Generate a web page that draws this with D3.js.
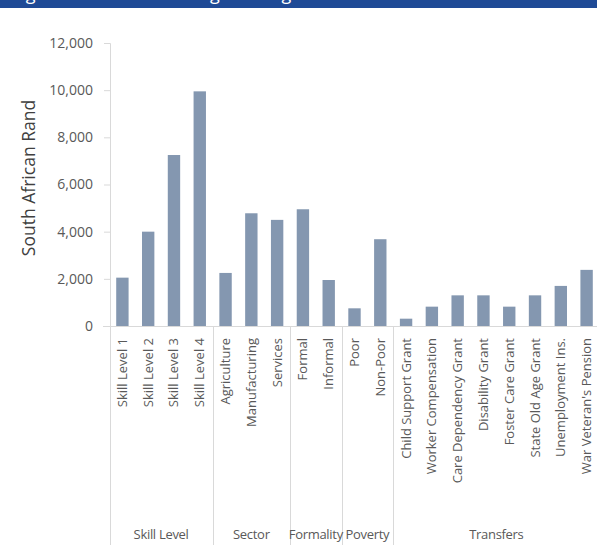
<!DOCTYPE html>
<html>
<head>
<meta charset="utf-8">
<script src="https://cdn.jsdelivr.net/npm/d3@7"></script>
<style>
  html, body { margin: 0; padding: 0; background: #ffffff; }
  svg { display: block; }
</style>
</head>
<body>
<svg id="chart" width="597" height="545"></svg>
<script>
// ---- data ----
const categories = [
  "Skill Level 1", "Skill Level 2", "Skill Level 3", "Skill Level 4",
  "Agriculture", "Manufacturing", "Services",
  "Formal", "Informal",
  "Poor", "Non-Poor",
  "Child Support Grant", "Worker Compensation", "Care Dependency Grant",
  "Disability Grant", "Foster Care Grant", "State Old Age Grant",
  "Unemployment Ins.", "War Veteran's Pension"
];
const values = [
  2050, 4000, 7250, 9950,
  2250, 4780, 4500,
  4950, 1950,
  750, 3680,
  310, 820, 1300, 1300, 820, 1300, 1700, 2380
];
const groupNames = ["Skill Level", "Sector", "Formality", "Poverty", "Transfers"];
const groupSizes = [4, 3, 2, 2, 8];
const yTicks = [0, 2000, 4000, 6000, 8000, 10000, 12000];
const yTitle = "South African Rand";
const headerText = "Figure 6: Median Earnings among Workers and Households";

// ---- layout ----
(function draw() {
const svg = d3.select("#chart");
const W = 597, H = 545;
const pLeft = 109.5, pRight = 599.5, pTop = 43, pBottom = 326;
const font = "'Open Sans', 'Noto Sans', sans-serif";
const textCol = "#595959";
const lineCol = "#d9d9d9";

// header band
svg.append("rect").attr("x", 0).attr("y", 0).attr("width", W).attr("height", 8)
  .attr("fill", "#1f4a96");
svg.append("text").attr("x", 12).attr("y", -0.5)
  .attr("font-family", font).attr("font-size", 18).attr("fill", "#ffffff")
  .text(headerText);

const x = d3.scaleBand().domain(categories).range([pLeft, pRight]).paddingInner(0.52).paddingOuter(0.26);
const y = d3.scaleLinear().domain([0, 12000]).range([pBottom, pTop]);

// y axis
const yAxis = svg.append("g").attr("transform", `translate(110,0)`)
  .call(d3.axisLeft(y).tickValues(yTicks).tickSize(6).tickPadding(11)
    .tickFormat(d3.format(",")));
yAxis.select(".domain").attr("stroke", lineCol);
yAxis.selectAll(".tick line").attr("stroke", lineCol);
yAxis.selectAll(".tick text").attr("font-family", font).attr("font-size", 14)
  .attr("fill", textCol);

// y title
svg.append("text")
  .attr("transform", `translate(35,178) rotate(-90)`)
  .attr("text-anchor", "middle")
  .attr("font-family", font).attr("font-size", 17.5).attr("fill", "#404040")
  .text(yTitle);

// bars
svg.append("g").selectAll("rect").data(categories).join("rect")
  .attr("x", d => x(d))
  .attr("width", x.bandwidth())
  .attr("y", (d, i) => y(values[i]))
  .attr("height", (d, i) => y(0) - y(values[i]))
  .attr("fill", "#8497b0");

// x axis (baseline)
svg.append("line").attr("x1", 103).attr("x2", W).attr("y1", pBottom + 0.5).attr("y2", pBottom + 0.5)
  .attr("stroke", lineCol);

// x tick labels
const xAxis = svg.append("g").attr("transform", `translate(0,${pBottom})`)
  .call(d3.axisBottom(x).tickSize(0).tickPadding(0));
xAxis.select(".domain").remove();
xAxis.selectAll(".tick text")
  .attr("transform", "translate(4.5,12) rotate(-90)")
  .attr("dy", 0).attr("y", 0).attr("x", 0)
  .attr("text-anchor", "end")
  .attr("font-family", font).attr("font-size", 13).attr("fill", textCol);

// group dividers and labels
const step = x.step();
let idx = 0;
const bounds = [pLeft];
groupSizes.forEach(n => { idx += n; bounds.push(pLeft + idx * step); });
svg.append("g").selectAll("line").data(bounds).join("line")
  .attr("x1", d => Math.round(d) + 0.5).attr("x2", d => Math.round(d) + 0.5)
  .attr("y1", pBottom).attr("y2", H)
  .attr("stroke", lineCol);
svg.append("g").selectAll("text").data(groupNames).join("text")
  .attr("x", (d, i) => (bounds[i] + bounds[i + 1]) / 2)
  .attr("y", 539)
  .attr("text-anchor", "middle")
  .attr("font-family", font).attr("font-size", 13).attr("letter-spacing", -0.3)
  .attr("fill", textCol)
  .text(d => d);
})();
</script>
</body>
</html>
